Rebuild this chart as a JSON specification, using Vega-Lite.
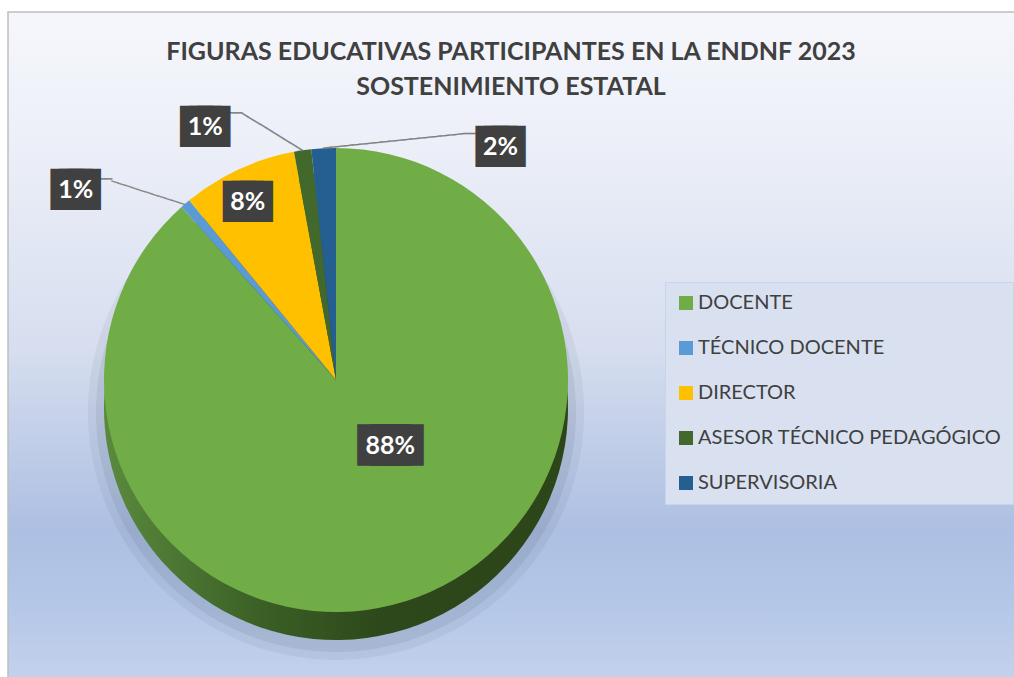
{
  "$schema": "https://vega.github.io/schema/vega-lite/v6.json",
  "width": 1100,
  "height": 700,
  "autosize": {"type": "none"},
  "padding": {"left": 8, "top": 12, "right": -94, "bottom": -35},
  "background": "#ffffff",
  "view": {
    "stroke": "#bfbfbf",
    "strokeWidth": 1.5,
    "fill": {
      "gradient": "linear", "x1": 0, "y1": 0, "x2": 0, "y2": 1,
      "stops": [
        {"offset": 0, "color": "#f6f7fc"},
        {"offset": 0.192, "color": "#eceff8"},
        {"offset": 0.481, "color": "#d6deef"},
        {"offset": 0.74, "color": "#adbfe2"},
        {"offset": 0.856, "color": "#b6c8e8"},
        {"offset": 0.96, "color": "#c4d2ec"},
        {"offset": 1, "color": "#c6d3ec"}
      ]
    }
  },
  "title": {
    "text": ["FIGURAS EDUCATIVAS PARTICIPANTES EN LA ENDNF 2023", "SOSTENIMIENTO ESTATAL"],
    "font": "Lato",
    "fontSize": 25,
    "fontWeight": "bold",
    "color": "#404040",
    "anchor": "start",
    "dx": 503,
    "align": "center",
    "frame": "group",
    "offset": -88,
    "lineHeight": 35
  },
  "data": {
    "values": [
      {"figura": "DOCENTE", "pct": 88.4, "etiqueta": "88%", "orden": 1},
      {"figura": "TÉCNICO DOCENTE", "pct": 0.7, "etiqueta": "1%", "orden": 2},
      {"figura": "DIRECTOR", "pct": 8.0, "etiqueta": "8%", "orden": 3},
      {"figura": "ASESOR TÉCNICO PEDAGÓGICO", "pct": 1.2, "etiqueta": "1%", "orden": 4},
      {"figura": "SUPERVISORIA", "pct": 1.7, "etiqueta": "2%", "orden": 5}
    ]
  },
  "encoding": {
    "theta": {"field": "pct", "type": "quantitative", "stack": true},
    "order": {"field": "orden", "type": "quantitative"},
    "detail": {"field": "figura", "type": "nominal"}
  },
  "layer": [
    {
      "mark": {"type": "arc", "x": 328, "y": 400, "outerRadius": 248, "fill": "#1f2d4a", "opacity": 0.06}
    },
    {
      "mark": {"type": "arc", "x": 328, "y": 400, "outerRadius": 240, "fill": "#1f2d4a", "opacity": 0.08}
    },
    {
      "mark": {
        "type": "arc", "x": 328, "y": 396, "outerRadius": 232,
        "fill": {
          "gradient": "linear", "x1": 0, "y1": 0, "x2": 1, "y2": 0,
          "stops": [
            {"offset": 0, "color": "#5a8a3e"},
            {"offset": 0.35, "color": "#3a5e25"},
            {"offset": 0.6, "color": "#2d481a"},
            {"offset": 1, "color": "#2c4519"}
          ]
        }
      }
    },
    {
      "mark": {"type": "arc", "x": 328, "y": 368, "outerRadius": 232},
      "encoding": {
        "color": {
          "field": "figura",
          "type": "nominal",
          "sort": ["DOCENTE", "TÉCNICO DOCENTE", "DIRECTOR", "ASESOR TÉCNICO PEDAGÓGICO", "SUPERVISORIA"],
          "scale": {
            "domain": ["DOCENTE", "TÉCNICO DOCENTE", "DIRECTOR", "ASESOR TÉCNICO PEDAGÓGICO", "SUPERVISORIA"],
            "range": ["#70ad47", "#5b9bd5", "#ffc000", "#43682b", "#255e91"]
          },
          "legend": {
            "orient": "none",
            "legendX": 657,
            "legendY": 270,
            "title": null,
            "symbolType": "square",
            "symbolSize": 196,
            "symbolStrokeWidth": 0,
            "labelFont": "Lato",
            "labelFontSize": 20,
            "labelColor": "#404040",
            "labelLimit": 400,
            "labelOffset": 2,
            "rowPadding": 25,
            "padding": 11,
            "fillColor": "#d9e1f0",
            "strokeColor": "#c6d4ec"
          }
        }
      }
    },
    {
      "mark": {"type": "text", "x": 328, "y": 368, "radius": 232, "angle": 197.8, "align": "left", "baseline": "middle", "font": "DejaVu Sans Mono", "fontSize": 11.63, "fill": "#7f7f7f", "stroke": "#7f7f7f", "strokeWidth": 0.4},
      "encoding": {"text": {"condition": {"test": "datum.figura === 'TÉCNICO DOCENTE'", "value": "───────────"}, "value": ""}}
    },
    {
      "mark": {"type": "text", "x": 328, "y": 368, "radius": 232, "dx": -73.3, "dy": -23.6, "align": "right", "baseline": "middle", "font": "DejaVu Sans Mono", "fontSize": 11.63, "fill": "#7f7f7f", "stroke": "#7f7f7f", "strokeWidth": 0.4},
      "encoding": {"text": {"condition": {"test": "datum.figura === 'TÉCNICO DOCENTE'", "value": "───"}, "value": ""}}
    },
    {
      "mark": {"type": "text", "x": 328, "y": 368, "radius": 232, "angle": 211.7, "align": "left", "baseline": "middle", "font": "DejaVu Sans Mono", "fontSize": 11.81, "fill": "#7f7f7f", "stroke": "#7f7f7f", "strokeWidth": 0.4},
      "encoding": {"text": {"condition": {"test": "datum.figura === 'ASESOR TÉCNICO PEDAGÓGICO'", "value": "──────────"}, "value": ""}}
    },
    {
      "mark": {"type": "text", "x": 328, "y": 368, "radius": 232, "dx": -60.5, "dy": -37.4, "align": "right", "baseline": "middle", "font": "DejaVu Sans Mono", "fontSize": 11.81, "fill": "#7f7f7f", "stroke": "#7f7f7f", "strokeWidth": 0.4},
      "encoding": {"text": {"condition": {"test": "datum.figura === 'ASESOR TÉCNICO PEDAGÓGICO'", "value": "───"}, "value": ""}}
    },
    {
      "mark": {"type": "text", "x": 328, "y": 368, "radius": 232, "angle": -5.85, "align": "left", "baseline": "middle", "font": "DejaVu Sans Mono", "fontSize": 12.26, "fill": "#7f7f7f", "stroke": "#7f7f7f", "strokeWidth": 0.4},
      "encoding": {"text": {"condition": {"test": "datum.figura === 'SUPERVISORIA'", "value": "───────────────────"}, "value": ""}}
    },
    {
      "mark": {"type": "text", "x": 328, "y": 368, "radius": 232, "dx": 139.5, "dy": -14.3, "align": "left", "baseline": "middle", "font": "DejaVu Sans Mono", "fontSize": 12.26, "fill": "#7f7f7f", "stroke": "#7f7f7f", "strokeWidth": 0.4},
      "encoding": {"text": {"condition": {"test": "datum.figura === 'SUPERVISORIA'", "value": "───"}, "value": ""}}
    },
    {
      "mark": {"type": "text", "x": 328, "y": 368, "radius": 71, "dx": 29, "font": "DejaVu Sans Mono", "fontSize": 20.2, "fill": "#404040", "stroke": "#404040", "strokeWidth": 17.5, "strokeJoin": "miter", "align": "center", "baseline": "middle"},
      "encoding": {"text": {"condition": {"test": "datum.figura === 'DOCENTE'", "value": "████"}, "value": ""}}
    },
    {
      "mark": {"type": "text", "x": 328, "y": 368, "radius": 71, "dx": 29, "font": "Lato", "fontWeight": "bold", "fontSize": 25, "fill": "#ffffff", "align": "center", "baseline": "middle"},
      "encoding": {"text": {"condition": {"test": "datum.figura === 'DOCENTE'", "field": "etiqueta", "type": "nominal"}, "value": ""}}
    },
    {
      "mark": {"type": "text", "x": 328, "y": 368, "radius": 196, "dx": -6, "font": "DejaVu Sans Mono", "fontSize": 14.15, "fill": "#404040", "stroke": "#404040", "strokeWidth": 24.5, "strokeJoin": "miter", "align": "center", "baseline": "middle"},
      "encoding": {"text": {"condition": {"test": "datum.figura === 'DIRECTOR'", "value": "███"}, "value": ""}}
    },
    {
      "mark": {"type": "text", "x": 328, "y": 368, "radius": 196, "dx": -6, "font": "Lato", "fontWeight": "bold", "fontSize": 25, "fill": "#ffffff", "align": "center", "baseline": "middle"},
      "encoding": {"text": {"condition": {"test": "datum.figura === 'DIRECTOR'", "field": "etiqueta", "type": "nominal"}, "value": ""}}
    },
    {
      "mark": {"type": "text", "x": 328, "y": 368, "radius": 250, "dx": -98, "font": "DejaVu Sans Mono", "fontSize": 14.15, "fill": "#404040", "stroke": "#404040", "strokeWidth": 24.5, "strokeJoin": "miter", "align": "center", "baseline": "middle"},
      "encoding": {"text": {"condition": {"test": "datum.figura === 'TÉCNICO DOCENTE'", "value": "███"}, "value": ""}}
    },
    {
      "mark": {"type": "text", "x": 328, "y": 368, "radius": 250, "dx": -98, "font": "Lato", "fontWeight": "bold", "fontSize": 25, "fill": "#ffffff", "align": "center", "baseline": "middle"},
      "encoding": {"text": {"condition": {"test": "datum.figura === 'TÉCNICO DOCENTE'", "field": "etiqueta", "type": "nominal"}, "value": ""}}
    },
    {
      "mark": {"type": "text", "x": 328, "y": 368, "radius": 256, "dx": -94, "font": "DejaVu Sans Mono", "fontSize": 14.15, "fill": "#404040", "stroke": "#404040", "strokeWidth": 24.5, "strokeJoin": "miter", "align": "center", "baseline": "middle"},
      "encoding": {"text": {"condition": {"test": "datum.figura === 'ASESOR TÉCNICO PEDAGÓGICO'", "value": "███"}, "value": ""}}
    },
    {
      "mark": {"type": "text", "x": 328, "y": 368, "radius": 256, "dx": -94, "font": "Lato", "fontWeight": "bold", "fontSize": 25, "fill": "#ffffff", "align": "center", "baseline": "middle"},
      "encoding": {"text": {"condition": {"test": "datum.figura === 'ASESOR TÉCNICO PEDAGÓGICO'", "field": "etiqueta", "type": "nominal"}, "value": ""}}
    },
    {
      "mark": {"type": "text", "x": 328, "y": 368, "radius": 233, "dx": 177, "font": "DejaVu Sans Mono", "fontSize": 14.15, "fill": "#404040", "stroke": "#404040", "strokeWidth": 24.5, "strokeJoin": "miter", "align": "center", "baseline": "middle"},
      "encoding": {"text": {"condition": {"test": "datum.figura === 'SUPERVISORIA'", "value": "███"}, "value": ""}}
    },
    {
      "mark": {"type": "text", "x": 328, "y": 368, "radius": 233, "dx": 177, "font": "Lato", "fontWeight": "bold", "fontSize": 25, "fill": "#ffffff", "align": "center", "baseline": "middle"},
      "encoding": {"text": {"condition": {"test": "datum.figura === 'SUPERVISORIA'", "field": "etiqueta", "type": "nominal"}, "value": ""}}
    }
  ]
}
